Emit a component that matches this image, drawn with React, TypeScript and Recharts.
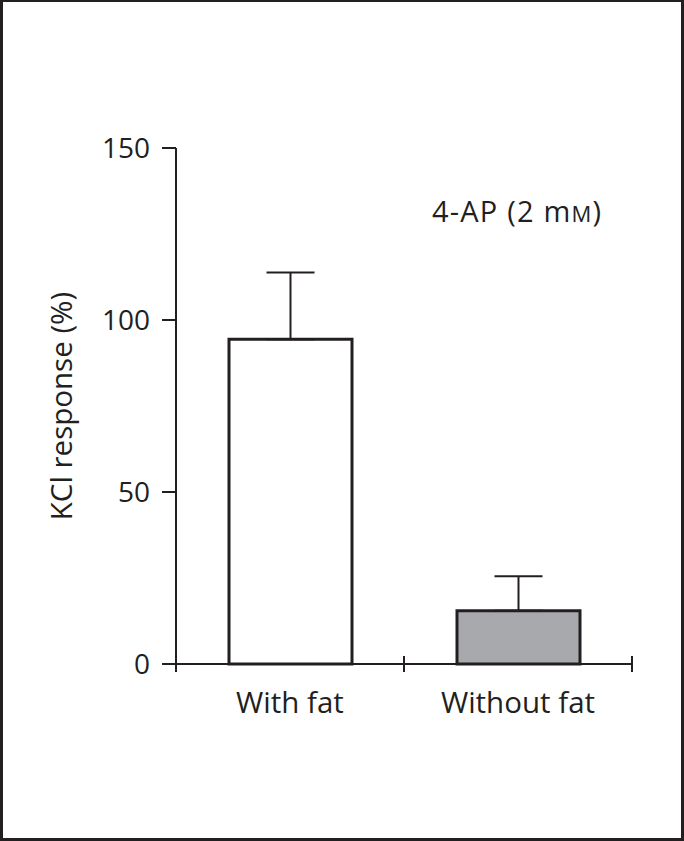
import { BarChart, Bar, XAxis, YAxis, ErrorBar, Cell } from 'recharts'

const groups = ['With fat', 'Without fat']
const responses = [94.4, 15.5]
const sems = [19.4, 10.0]
const fills = ['#ffffff', '#a7a9ac']
const yTicks = [0, 50, 100, 150]

const INK = '#231f20'
const FONT = '"Open Sans", "Noto Sans", sans-serif'

const data = groups.map((g, i) => ({
  group: g,
  value: responses[i],
  err: [0, sems[i]],
}))

function GroupTick(props: any) {
  const { x, y, payload, index } = props
  const half = payload && payload.offset ? payload.offset : 114
  return (
    <g>
      <line x1={x - half} y1={y - 16} x2={x - half} y2={y} stroke={INK} strokeWidth={2} />
      {index === groups.length - 1 && (
        <line x1={x + half} y1={y - 16} x2={x + half} y2={y} stroke={INK} strokeWidth={2} />
      )}
      <text x={x} y={y + 41} textAnchor="middle" fontSize={29.5} fill={INK} fontFamily={FONT}>
        {payload.value}
      </text>
    </g>
  )
}

export default function App() {
  return (
    <div
      style={{
        position: 'absolute',
        left: 0,
        top: 0,
        width: 684,
        height: 841,
        boxSizing: 'border-box',
        border: `3px solid ${INK}`,
        borderTopWidth: 2,
        background: '#fff',
        fontFamily: FONT,
      }}
    >
      <div style={{ position: 'absolute', left: -3, top: -2 }}>
        <BarChart
          width={684}
          height={841}
          data={data}
          margin={{ top: 148, right: 52, bottom: 117, left: 0 }}
          barSize={123}
        >
          <XAxis
            dataKey="group"
            axisLine={{ stroke: INK, strokeWidth: 2 }}
            tickLine={false}
            tick={<GroupTick />}
            height={60}
            interval={0}
          />
          <YAxis
            domain={[0, 150]}
            ticks={yTicks}
            width={176}
            tickSize={14}
            tickMargin={12}
            axisLine={{ stroke: INK, strokeWidth: 2 }}
            tickLine={{ stroke: INK, strokeWidth: 2 }}
            tick={{ fontSize: 28, fill: INK, fontFamily: FONT }}
            label={{
              value: 'KCl response (%)',
              angle: -90,
              position: 'center',
              dx: -26,
              style: { fontSize: 29.5, fill: INK, fontFamily: FONT },
            }}
          />
          <Bar dataKey="value" stroke={INK} strokeWidth={3} isAnimationActive={false}>
            {data.map((d, i) => (
              <Cell key={d.group} fill={fills[i]} />
            ))}
            <ErrorBar dataKey="err" direction="y" width={24} stroke={INK} strokeWidth={2} />
          </Bar>
        </BarChart>
      </div>
      <div
        style={{
          position: 'absolute',
          left: 429,
          top: 190,
          fontSize: 29,
          color: INK,
          whiteSpace: 'nowrap',
          lineHeight: '38px',
          letterSpacing: 1.2,
        }}
      >
        4-AP (2 m<span style={{ fontSize: 22 }}>M</span>)
      </div>
    </div>
  )
}
